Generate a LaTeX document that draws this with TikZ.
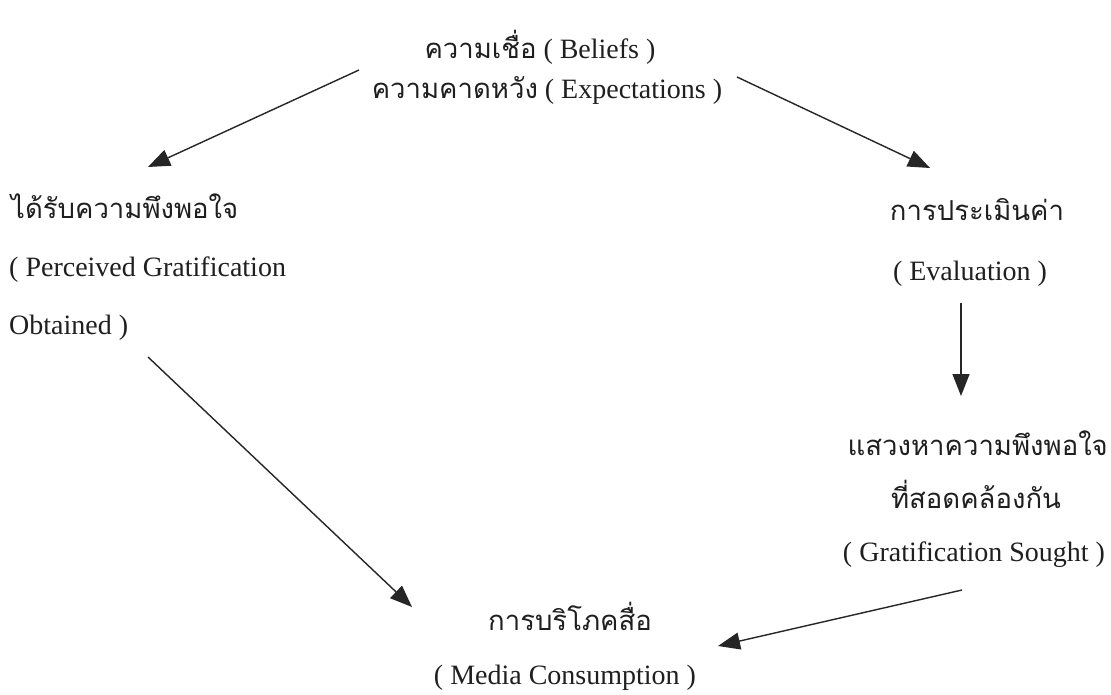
\documentclass[tikz,border=0pt]{standalone}
\usepackage{fontspec}
\setmainfont{Liberation Serif}
\newfontfamily\thaifont[Script=Thai]{Loma}
\usetikzlibrary{arrows.meta}
\newcommand\tht[1]{{\thaifont\fontsize{27.5}{30}\selectfont #1}}
\begin{document}
\begin{tikzpicture}[x=1pt,y=-1pt,
  lbl/.style={inner sep=0pt, font=\fontsize{28}{30}\selectfont, text=black!88},
  conn/.style={draw=black!85, line width=1.4pt, -{Triangle[length=22pt,width=17pt]}}]
\useasboundingbox[fill=white] (0,0) rectangle (1111,694);
% text nodes
\node[lbl, anchor=base] (b1) at (540,58) {\tht{ความเชื่อ} ( Beliefs )};
\node[lbl, anchor=base] (b2) at (547,98) {\tht{ความคาดหวัง} ( Expectations )};
\node[lbl, anchor=base west] (o1) at (11,218) {\tht{ได้รับความพึงพอใจ}};
\node[lbl, anchor=base west] (o2) at (9,276) {( Perceived Gratification};
\node[lbl, anchor=base west] (o3) at (9,334) {Obtained )};
\node[lbl, anchor=base] (e1) at (977,220) {\tht{การประเมินค่า}};
\node[lbl, anchor=base] (e2) at (970,280) {( Evaluation )};
\node[lbl, anchor=base east] (s1) at (1108,455) {\tht{แสวงหาความพึงพอใจ}};
\node[lbl, anchor=base] (s2) at (976,508) {\tht{ที่สอดคล้องกัน}};
\node[lbl, anchor=base] (s3) at (974,561) {( Gratification Sought )};
\node[lbl, anchor=base] (m1) at (570,630) {\tht{การบริโภคสื่อ}};
\node[lbl, anchor=base] (m2) at (565,684) {( Media Consumption )};
% connector end points
\coordinate (aS) at (359,70);  \coordinate (aE) at (148,167);
\coordinate (bS) at (737,77);  \coordinate (bE) at (930,168);
\coordinate (vS) at (961,303); \coordinate (vE) at (961,396);
\coordinate (cS) at (148,357); \coordinate (cE) at (412,607);
\coordinate (dS) at (962,590); \coordinate (dE) at (718,646);
\draw[conn] (aS) -- (aE);
\draw[conn] (bS) -- (bE);
\draw[conn] (vS) -- (vE);
\draw[conn] (cS) -- (cE);
\draw[conn] (dS) -- (dE);
\end{tikzpicture}
\end{document}
